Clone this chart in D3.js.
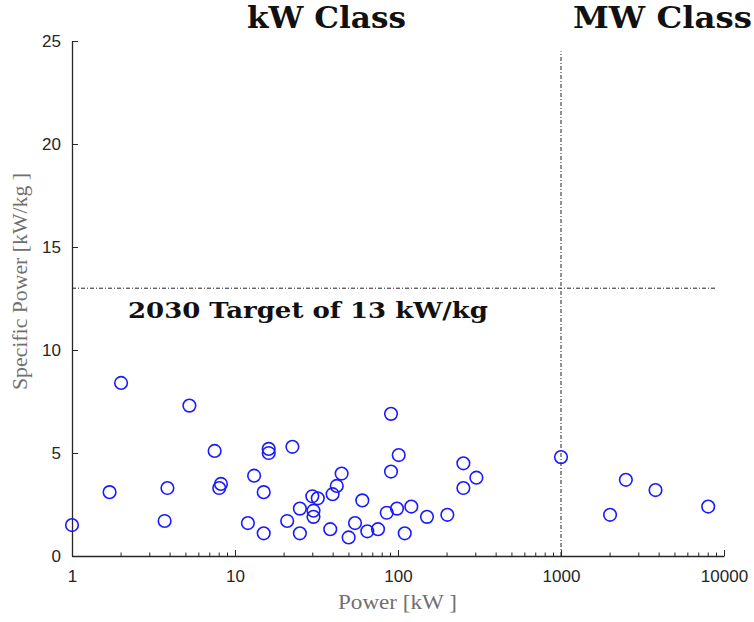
<!DOCTYPE html>
<html>
<head>
<meta charset="utf-8">
<script src="https://cdn.jsdelivr.net/npm/d3@7/dist/d3.min.js"></script>
<style>
  html, body { margin: 0; padding: 0; background: #fff; }
  svg { display: block; }
</style>
</head>
<body>
<svg id="chart" width="754" height="622"></svg>
<script>
// Machine power (kW) and specific power (kW/kg) for each surveyed machine
const powerKW = [
  1, 1.7, 2, 3.7, 3.85, 5.25, 7.5, 8, 8.2, 12, 13.1, 15, 15, 16.1, 16.1,
  20.9, 22.5, 25, 25, 29.8, 30.3, 30.3, 32.2, 38.4, 39.7, 42.1, 45.1, 49.8,
  54.5, 60.4, 64.8, 75.4, 85.3, 90.6, 90.6, 98.6, 101, 110, 120.7, 150.6,
  200.8, 251.8, 251.8, 302.6, 1000, 2000, 2500, 3800, 8000
];
const specificPower = [
  1.5, 3.1, 8.4, 1.7, 3.3, 7.3, 5.1, 3.3, 3.5, 1.6, 3.9, 3.1, 1.1, 5.2, 5.0,
  1.7, 5.3, 2.3, 1.1, 2.9, 2.2, 1.9, 2.8, 1.3, 3.0, 3.4, 4.0, 0.9,
  1.6, 2.7, 1.2, 1.3, 2.1, 6.9, 4.1, 2.3, 4.9, 1.1, 2.4, 1.9,
  2.0, 4.5, 3.3, 3.8, 4.8, 2.0, 3.7, 3.2, 2.4
];

// Axis ticks
const xTickValues = [1, 10, 100, 1000, 10000];
const yTickValues = [0, 5, 10, 15, 20, 25];

// Reference lines: 2030 target and the kW / MW boundary
const targetSpecificPower = 13;
const targetLineSpan = [1, 9000];
const classBoundaryKW = 1000;
const boundaryLineSpan = [0, 24.5];

const titleLeft = "kW Class";
const titleRight = "MW Class";
const targetLabel = "2030 Target of 13 kW/kg";
const xLabel = "Power [kW ]";
const yLabel = "Specific Power [kW/kg ]";

const svg = d3.select("#chart");
const plot = { left: 72, right: 724, top: 41, bottom: 556 };

const x = d3.scaleLog().domain([1, 10000]).range([plot.left, plot.right]);
const y = d3.scaleLinear().domain([0, 25]).range([plot.bottom, plot.top]);

const axisColor = "#262626";
const labelColor = "#707070";
const tickFont = "'Liberation Sans', Arial, sans-serif";
const serif = "'DejaVu Serif', 'Liberation Serif', serif";
const labelSerif = "'Liberation Serif', serif";

// Minor log ticks (2..9 in each decade)
const minor = [];
for (let d = 1; d < 10000; d *= 10) {
  for (let k = 2; k <= 9; k++) minor.push(d * k);
}

const xAxis = d3.axisBottom(x)
  .tickValues(xTickValues)
  .tickFormat(d3.format("d"))
  .tickSizeInner(-6).tickSizeOuter(0).tickPadding(14);
const gx = svg.append("g").attr("transform", `translate(0,${plot.bottom})`).call(xAxis);
gx.select(".domain").attr("stroke", axisColor).attr("stroke-width", 1.3);
gx.selectAll(".tick line").attr("stroke", axisColor).attr("stroke-width", 1);
gx.selectAll(".tick text").attr("fill", axisColor)
  .style("font-family", tickFont).style("font-size", "17px");

svg.append("g").selectAll("line").data(minor).join("line")
  .attr("x1", d => x(d)).attr("x2", d => x(d))
  .attr("y1", plot.bottom).attr("y2", plot.bottom - 3.5)
  .attr("stroke", axisColor).attr("stroke-width", 1);

const yAxis = d3.axisLeft(y)
  .tickValues(yTickValues)
  .tickSizeInner(-6).tickSizeOuter(0).tickPadding(11);
const gy = svg.append("g").attr("transform", `translate(${plot.left},0)`).call(yAxis);
gy.select(".domain").attr("stroke", axisColor).attr("stroke-width", 1.3);
gy.selectAll(".tick line").attr("stroke", axisColor).attr("stroke-width", 1);
gy.selectAll(".tick text").attr("fill", axisColor)
  .style("font-family", tickFont).style("font-size", "17px");

// Dash-dot reference lines
svg.append("line")
  .attr("x1", x(targetLineSpan[0])).attr("x2", x(targetLineSpan[1]))
  .attr("y1", y(targetSpecificPower)).attr("y2", y(targetSpecificPower))
  .attr("stroke", "#222").attr("stroke-width", 1)
  .attr("stroke-dasharray", "4,2,1,2");
svg.append("line")
  .attr("x1", x(classBoundaryKW)).attr("x2", x(classBoundaryKW))
  .attr("y1", y(boundaryLineSpan[0])).attr("y2", y(boundaryLineSpan[1]))
  .attr("stroke", "#222").attr("stroke-width", 1)
  .attr("stroke-dasharray", "4,2,1,2");

// Data points
const pts = powerKW.map((p, i) => ({ p, v: specificPower[i] }));
svg.append("g").selectAll("circle").data(pts).join("circle")
  .attr("cx", d => x(d.p)).attr("cy", d => y(d.v)).attr("r", 6.3)
  .attr("fill", "none").attr("stroke", "#1a1aff").attr("stroke-width", 1.6);

// Annotations
function boldText(tx, ty, size, width, str) {
  svg.append("text").attr("x", tx).attr("y", ty)
    .style("font-family", serif).style("font-weight", "bold").style("font-size", size + "px")
    .attr("textLength", width).attr("lengthAdjust", "spacingAndGlyphs")
    .attr("fill", "#111").text(str);
}
boldText(247, 28, 29, 159, titleLeft);
boldText(573, 28, 29, 179, titleRight);
boldText(128, 318, 22, 360, targetLabel);

svg.append("text").attr("x", 338).attr("y", 609)
  .style("font-family", labelSerif).style("font-size", "20px")
  .attr("textLength", 119).attr("lengthAdjust", "spacingAndGlyphs")
  .attr("fill", labelColor).text(xLabel);
svg.append("text")
  .attr("transform", "translate(27,390) rotate(-90)")
  .style("font-family", labelSerif).style("font-size", "20px")
  .attr("textLength", 217).attr("lengthAdjust", "spacingAndGlyphs")
  .attr("fill", labelColor).text(yLabel);
</script>
</body>
</html>
